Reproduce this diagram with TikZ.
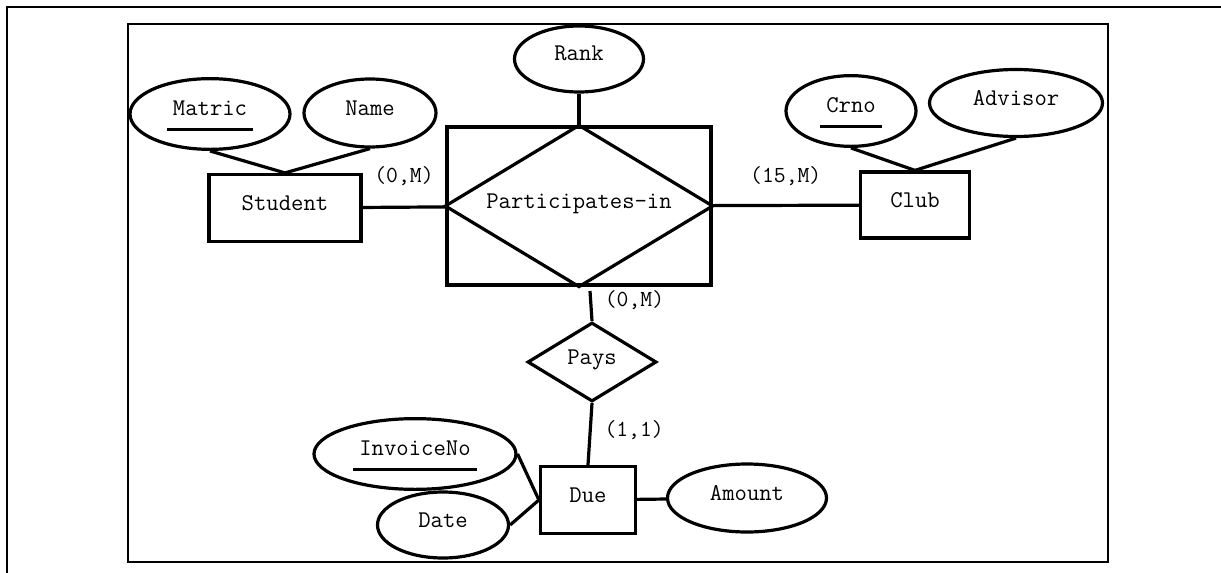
\documentclass[tikz,border=0pt]{standalone}
\usepackage{tikz}
\usetikzlibrary{shapes.geometric}
\newlength{\keywd}
\newcommand{\pkey}[1]{\settowidth{\keywd}{#1}\addtolength{\keywd}{6pt}%
  \begin{tabular}{@{}c@{}}#1\rule{0pt}{13.3pt}\\[-6.5pt]\rule{\keywd}{1.5pt}\end{tabular}}

\begin{document}
\begin{tikzpicture}[x=0.5pt,y=-0.5pt,line width=1.6pt,
    font=\ttfamily\fontsize{12}{14}\selectfont,
    entity/.style={draw,rectangle,minimum height=33.5pt,text height=7pt,text depth=5pt},
    keyattrib/.style={draw,ellipse,inner sep=0pt,minimum height=34pt},
    attrib/.style={keyattrib,text height=7pt,text depth=5pt},
    card/.style={font=\ttfamily\fontsize{11.5}{13}\selectfont}]
  \useasboundingbox (0,0) rectangle (1221,573);
  \draw[line width=1.3pt] (7,573) -- (7,7) -- (1221,7);
  \draw[line width=1.1pt] (128,24) rectangle (1108,562);
  % entities and relationships
  \node[entity,minimum width=76pt] (student) at (285,208) {Student};
  \node[entity,minimum width=54.5pt,minimum height=33pt] (club) at (915,205) {Club};
  \node[entity,minimum width=47.5pt] (due) at (588,500) {Due};
  \node[entity,minimum width=132pt,minimum height=79pt] (partin) at (579,206) {Participates-in};
  \draw (partin.north) -- (partin.east) -- (partin.south) -- (partin.west) -- cycle;
  \node[draw,diamond,aspect=1.6,minimum width=64.5pt,minimum height=39.5pt,
    text height=7pt,text depth=5pt] (pays) at (592,362) {Pays};
  \coordinate (partfoot) at (590,291);
  % attributes
  \node[keyattrib,minimum width=80pt] (matric) at (210,114) {\pkey{Matric}};
  \node[attrib,minimum width=66pt] (name) at (370,113) {Name};
  \node[attrib,minimum width=64.5pt,minimum height=33pt] (rank) at (579,59) {Rank};
  \node[keyattrib,minimum width=65pt] (crno) at (851,111) {\pkey{Crno}};
  \node[attrib,minimum width=86.5pt,minimum height=33.5pt] (advisor) at (1016,103) {Advisor};
  \node[keyattrib,minimum width=101pt] (invoice) at (415,454) {\pkey{InvoiceNo}};
  \node[attrib,minimum width=65.5pt,minimum height=33pt] (date) at (443,525) {Date};
  \node[attrib,minimum width=79.5pt] (amount) at (747,498) {Amount};
  % connectors
  \draw (matric.south) -- (student.north);
  \draw (name.south) -- (student.north);
  \draw (crno.south) -- (club.north);
  \draw (advisor.south) -- (club.north);
  \draw (rank.south) -- (partin.north);
  \draw (student) -- node[card,above=6.5pt]{(0,M)} (partin);
  \draw (partin) -- node[card,above=5.5pt]{(15,M)} (club);
  \draw (pays.north) -- node[card,right=3pt,pos=0.7]{(0,M)} (partfoot);
  \draw (pays.south) -- node[card,right=3pt,pos=0.43]{(1,1)} (due.north);
  \draw (due) -- (amount);
  \draw (invoice.east) -- (due.west);
  \draw (date.east) -- (due.west);
\end{tikzpicture}
\end{document}
